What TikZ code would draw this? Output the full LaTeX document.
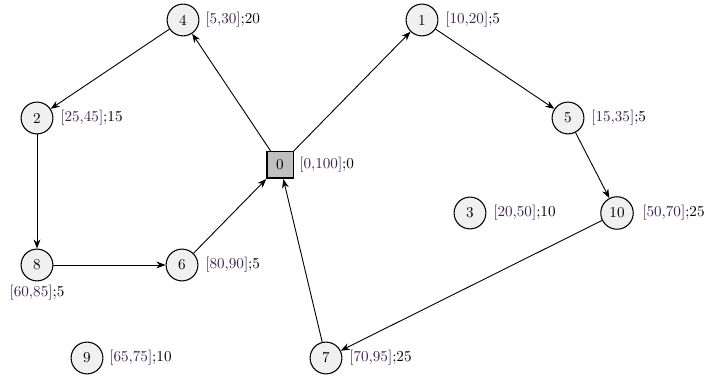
\documentclass[tikz,border=0pt]{standalone}
\usetikzlibrary{arrows.meta}
\definecolor{ivcol}{RGB}{62,36,80}
\newcommand{\lab}[2]{\textcolor{ivcol}{#1};#2}
\begin{document}
\begin{tikzpicture}[x=0.66pt,y=-0.66pt,
  vert/.style={circle,draw,fill=gray!12,line width=0.7pt,minimum size=21pt},
  root/.style={rectangle,draw,fill=gray!50,line width=1pt,minimum size=17.5pt,inner sep=0pt},
  info/.style={anchor=west,inner sep=0pt},
  edge/.style={-{Stealth[length=6pt,width=4.5pt]},semithick}]
\useasboundingbox (0,0) rectangle (705,376);
\node[root] (n0) at (280,165) {0};
\node[vert] (n1) at (422,20) {1};
\node[vert] (n2) at (37,118) {2};
\node[vert] (n3) at (470,213) {3};
\node[vert] (n4) at (183,20) {4};
\node[vert] (n5) at (568,118) {5};
\node[vert] (n6) at (182,265) {6};
\node[vert] (n7) at (326,358) {7};
\node[vert] (n8) at (37,265) {8};
\node[vert] (n9) at (87,358) {9};
\node[vert] (n10) at (617,213) {10};
\node[info] (l0) at (299,165) {\lab{[0,100]}{0}};
\node[info] (l1) at (445,20) {\lab{[10,20]}{5}};
\node[info] (l2) at (60,118) {\lab{[25,45]}{15}};
\node[info] (l3) at (493,213) {\lab{[20,50]}{10}};
\node[info] (l4) at (205,20) {\lab{[5,30]}{20}};
\node[info] (l5) at (591,118) {\lab{[15,35]}{5}};
\node[info] (l6) at (205,265) {\lab{[80,90]}{5}};
\node[info] (l7) at (349,358) {\lab{[70,95]}{25}};
\node[anchor=center,inner sep=0pt] (l8) at (37,293) {\lab{[60,85]}{5}};
\node[info] (l9) at (109,358) {\lab{[65,75]}{10}};
\node[info] (l10) at (642,213) {\lab{[50,70]}{25}};
\draw[edge] (n0) -- (n4);
\draw[edge] (n0) -- (n1);
\draw[edge] (n1) -- (n5);
\draw[edge] (n5) -- (n10);
\draw[edge] (n10) -- (n7);
\draw[edge] (n7) -- (n0);
\draw[edge] (n4) -- (n2);
\draw[edge] (n2) -- (n8);
\draw[edge] (n8) -- (n6);
\draw[edge] (n6) -- (n0);
\end{tikzpicture}
\end{document}
